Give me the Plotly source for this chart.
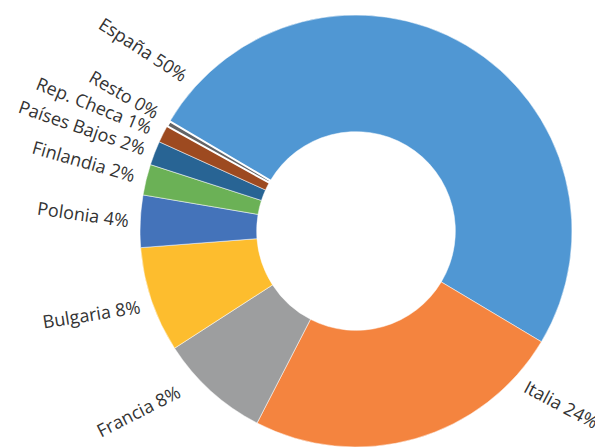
import plotly.graph_objects as go

# ---- data ----
countries = ["España", "Italia", "Francia", "Bulgaria", "Polonia",
             "Finlandia", "Países Bajos", "Rep. Checa", "Resto"]
shares = [50.1, 24.0, 8.3, 7.9, 3.9, 2.3, 1.8, 1.3, 0.4]
colors = ["#5097D3", "#F4843F", "#9D9E9F", "#FDBD2E", "#4473BA",
          "#6BB156", "#286494", "#9D4A20", "#636466"]

# ---- layout constants ----
PAGE_OFF = 8                       # browser body margin
W, H = 603 - PAGE_OFF, 447 - PAGE_OFF
CX, CY, R = 356 - PAGE_OFF, 231 - PAGE_OFF, 216   # pie centre / radius (px)
# label placement (screen pixel centre, text angle), hand placed as in the original
label_place = {
    "España": (143, 49, 33),
    "Resto": (124, 94, 30),
    "Rep. Checa": (94, 105, 22),
    "Países Bajos": (82, 127, 19),
    "Finlandia": (84, 161, 16),
    "Polonia": (83, 214, 8),
    "Bulgaria": (91, 314, -9),
    "Francia": (138, 411, -27),
    "Italia": (561, 404, 28),
}

fig = go.Figure(go.Pie(
    labels=countries,
    values=shares,
    sort=False,
    direction="clockwise",
    rotation=-59.5,
    hole=0.46,
    textinfo="none",
    marker=dict(colors=colors,
                line=dict(color="white", width=[0.5] * 8 + [2])),
    domain=dict(x=[(CX - R) / W, min(1, (CX + R) / W)],
                y=[max(0, 1 - (CY + R) / H), 1 - (CY - R) / H]),
    showlegend=False,
    hoverinfo="label+percent",
))

total = sum(shares)
for name, val in zip(countries, shares):
    sx, sy, ang = label_place[name]
    fig.add_annotation(
        x=(sx - PAGE_OFF) / W, y=1 - (sy - PAGE_OFF) / H,
        xref="paper", yref="paper",
        text=f"{name} {round(val / total * 100)}%",
        showarrow=False, textangle=ang,
        xanchor="center", yanchor="middle",
        font=dict(family="Open Sans", size=18, color="#333333"),
    )

fig.update_layout(
    width=W, height=H,
    margin=dict(l=0, r=0, t=0, b=0),
    paper_bgcolor="white", plot_bgcolor="white",
)

fig.write_html("out.html")
